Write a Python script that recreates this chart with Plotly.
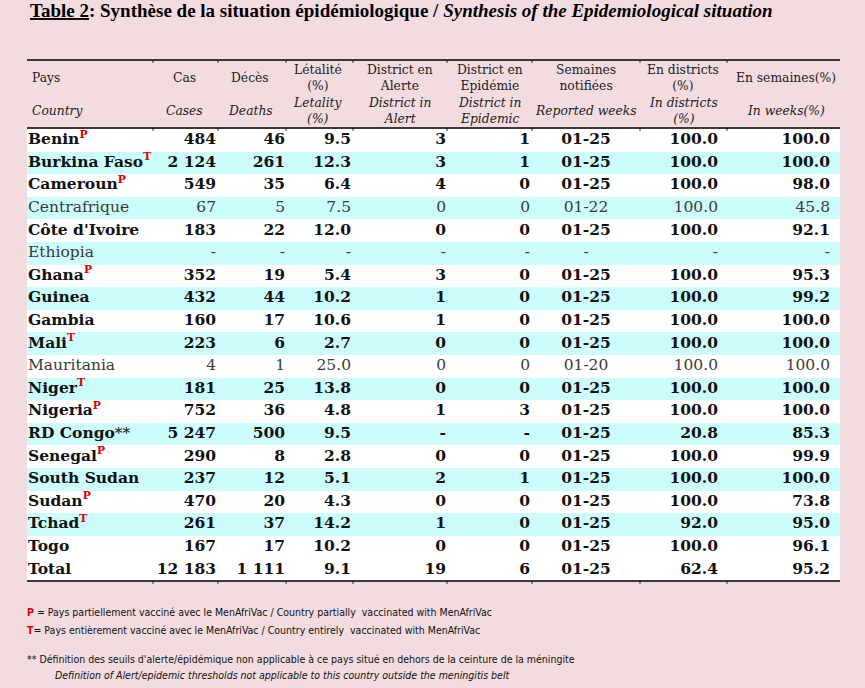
import plotly.graph_objects as go

W, H = 865, 688
BG = "#f2dcdf"
CYAN = "#ccfcfc"
RED = "#e00000"

countries = ["Benin", "Burkina Faso", "Cameroun", "Centrafrique", "Côte d'Ivoire", "Ethiopia",
             "Ghana", "Guinea", "Gambia", "Mali", "Mauritania", "Niger", "Nigeria", "RD Congo",
             "Senegal", "South Sudan", "Sudan", "Tchad", "Togo", "Total"]
marks = ["P", "T", "P", "", "", "", "P", "", "", "T", "", "T", "P", "**", "P", "", "P", "T", "", ""]
bold = [1, 1, 1, 0, 1, 0, 1, 1, 1, 1, 0, 1, 1, 1, 1, 1, 1, 1, 1, 1]
cases = [484, 2124, 549, 67, 183, None, 352, 432, 160, 223, 4, 181, 752, 5247, 290, 237, 470, 261, 167, 12183]
deaths = [46, 261, 35, 5, 22, None, 19, 44, 17, 6, 1, 25, 36, 500, 8, 12, 20, 37, 17, 1111]
lethality = [9.5, 12.3, 6.4, 7.5, 12.0, None, 5.4, 10.2, 10.6, 2.7, 25.0, 13.8, 4.8, 9.5, 2.8, 5.1, 4.3, 14.2, 10.2, 9.1]
alert = [3, 3, 4, 0, 0, None, 3, 1, 1, 0, 0, 0, 1, None, 0, 2, 0, 1, 0, 19]
epidemic = [1, 1, 0, 0, 0, None, 0, 0, 0, 0, 0, 0, 3, None, 0, 1, 0, 0, 0, 6]
weeks = ["01-25", "01-25", "01-25", "01-22", "01-25", None, "01-25", "01-25", "01-25", "01-25", "01-20",
         "01-25", "01-25", "01-25", "01-25", "01-25", "01-25", "01-25", "01-25", "01-25"]
pct_districts = [100.0, 100.0, 100.0, 100.0, 100.0, None, 100.0, 100.0, 100.0, 100.0, 100.0, 100.0,
                 100.0, 20.8, 100.0, 100.0, 100.0, 92.0, 100.0, 62.4]
pct_weeks = [100.0, 100.0, 98.0, 45.8, 92.1, None, 95.3, 99.2, 100.0, 100.0, 100.0, 100.0, 100.0,
             85.3, 99.9, 100.0, 73.8, 95.0, 96.1, 95.2]

head_fr = ["Pays", "Cas", "Décès", "Létalité<br>(%)", "District en<br>Alerte", "District en<br>Epidémie",
           "Semaines<br>notifiées", "En districts<br>(%)", "En semaines(%)"]
head_en = ["Country", "Cases", "Deaths", "Letality<br>(%)", "District in<br>Alert", "District in<br>Epidemic",
           "Reported weeks", "In districts<br>(%)", "In weeks(%)"]

# layout, in pixels (x axis and paper are both 0..W)
tbl_x0, tbl_x1 = 27, 840
rule_top, rule_head = 60, 128
body_top, row_h = 129, 22.6
col_edges = [153, 218, 286, 353, 447, 532, 640, 727]
head_x = [30, 184, 250, 318, 400, 490, 586, 683, 786]
head_align = ["left"] + ["center"] * 8
# text anchors per data column: x position and side
col_x = [28, 216, 285, 351, 446, 530, 586, 718, 830]
col_pos = ["middle right"] + ["middle left"] * 5 + ["middle center"] + ["middle left"] * 2

n = len(countries)
rows = list(range(n))


def fmt_int(v):
    return "-" if v is None else f"{v:,}".replace(",", " ")


def fmt_dec(v):
    return "-" if v is None else f"{v:.1f}"


def fmt_str(v):
    return "-" if v is None else v


def wrap(txt, b):
    return f"<b>{txt}</b>" if b else txt


names = []
for c, m, b in zip(countries, marks, bold):
    s = wrap(c, b)
    if m == "**":
        s += "**"
    elif m:
        s += f"<sup><b><span style='color:{RED}'>{m}</span></b></sup>"
    names.append(s)

columns = [names,
           [wrap(fmt_int(v), b) for v, b in zip(cases, bold)],
           [wrap(fmt_int(v), b) for v, b in zip(deaths, bold)],
           [wrap(fmt_dec(v), b) for v, b in zip(lethality, bold)],
           [wrap(fmt_int(v), b) for v, b in zip(alert, bold)],
           [wrap(fmt_int(v), b) for v, b in zip(epidemic, bold)],
           [wrap(fmt_str(v), b) for v, b in zip(weeks, bold)],
           [wrap(fmt_dec(v), b) for v, b in zip(pct_districts, bold)],
           [wrap(fmt_dec(v), b) for v, b in zip(pct_weeks, bold)]]

row_fill = ["white" if i % 2 == 0 else CYAN for i in rows]
row_fill[-1] = "white"
row_font = ["#111111" if b else "#3a3a3a" for b in bold]

serif = "DejaVu Serif"

fig = go.Figure()

# row backgrounds
fig.add_trace(go.Bar(y=rows, x=[tbl_x1 - tbl_x0] * n, base=tbl_x0, orientation="h", width=1,
                     marker=dict(color=row_fill, line=dict(width=0)), hoverinfo="skip"))

# cell texts
for vals, x, pos in zip(columns, col_x, col_pos):
    fig.add_trace(go.Scatter(x=[x] * n, y=rows, mode="text", text=vals, textposition=pos,
                             textfont=dict(family=serif, size=15.5, color=row_font), hoverinfo="skip"))

# y axis: row index -> pixel mapping (reversed)
y_top = -body_top / row_h - 0.5
y_bot = (H - body_top) / row_h - 0.5


def py(px):
    return 1 - px / H


shapes = []
for yp in [rule_top, rule_head, body_top + row_h * n]:
    shapes.append(dict(type="line", xref="x", yref="paper", x0=tbl_x0, x1=tbl_x1, y0=py(yp), y1=py(yp),
                       line=dict(color="black", width=1.4)))
    for xe in col_edges:
        shapes.append(dict(type="line", xref="x", yref="paper", x0=xe, x1=xe, y0=py(yp), y1=py(yp + 3),
                           line=dict(color="black", width=0.8)))

annotations = []
for fr, en, x, al in zip(head_fr, head_en, head_x, head_align):
    xa = "left" if al == "left" else "center"
    annotations.append(dict(text=fr, x=x, y=py(77.5), xref="x", yref="paper", xanchor=xa, yanchor="middle",
                            align=al, showarrow=False, font=dict(family=serif, size=12.3, color="#222222")))
    annotations.append(dict(text=f"<i>{en.replace('<br>', '</i><br><i>')}</i>", x=x, y=py(110.5),
                            xref="x", yref="paper", xanchor=xa, yanchor="middle", align=al, showarrow=False,
                            font=dict(family=serif, size=12.3, color="#222222")))

title = ("<b><u>Table 2</u>: Synthèse de la situation épidémiologique / "
         "<i>Synthesis of the Epidemiological situation</i></b>")
annotations.append(dict(text=title, x=28, y=py(10), xref="x", yref="paper", xanchor="left",
                        yanchor="middle", showarrow=False,
                        font=dict(family="Liberation Serif", size=19, color="black")))

foot_font = dict(family="Noto Sans Condensed, DejaVu Sans Condensed, Lato", size=10.5, color="#111111")
foot = [
    (f"<b><span style='color:{RED}'>P</span></b> = Pays partiellement vacciné avec le MenAfriVac / "
     "Country partially  vaccinated with MenAfriVac", 25, 612),
    (f"<b><span style='color:{RED}'>T</span></b>= Pays entièrement vacciné avec le MenAfriVac / "
     "Country entirely  vaccinated with MenAfriVac", 25, 630),
    ("** Définition des seuils d'alerte/épidémique non applicable à ce pays situé en dehors "
     "de la ceinture de la méningite", 25, 659),
    ("<i>Definition of Alert/epidemic thresholds not applicable to this country outside "
     "the meningitis belt</i>", 53, 675),
]
for txt, x, y in foot:
    annotations.append(dict(text=txt, x=x, y=py(y), xref="x", yref="paper", xanchor="left",
                            yanchor="middle", showarrow=False, font=foot_font))

fig.update_layout(
    width=W, height=H, margin=dict(l=0, r=0, t=0, b=0),
    paper_bgcolor=BG, plot_bgcolor=BG, showlegend=False, bargap=0, hovermode=False,
    xaxis=dict(range=[0, W], visible=False, fixedrange=True),
    yaxis=dict(range=[y_bot, y_top], visible=False, fixedrange=True),
    shapes=shapes, annotations=annotations,
)

fig.write_html("out.html", config={"displayModeBar": False},
               post_script="document.body.style.margin='0';")
